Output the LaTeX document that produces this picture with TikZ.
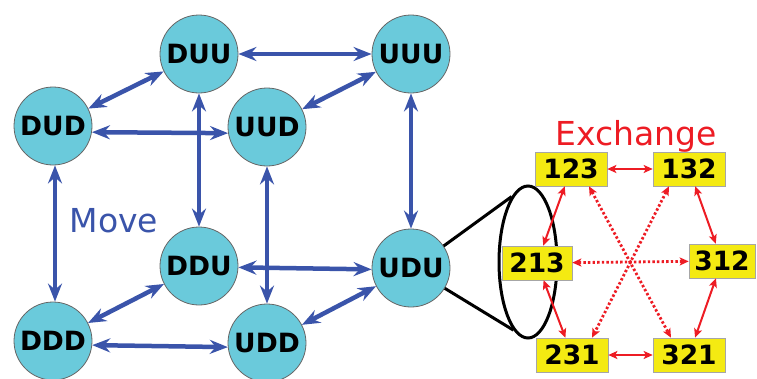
\documentclass[tikz,border=0pt]{standalone}
\usepackage{fontspec}
\setmainfont{DejaVu Sans}
\usetikzlibrary{arrows.meta,shapes.geometric}
\definecolor{spinfill}{RGB}{106,202,219}
\definecolor{movecol}{RGB}{58,84,170}
\definecolor{exred}{RGB}{237,28,36}
\definecolor{permfill}{RGB}{244,234,18}
\tikzset{
  state/.style={circle,draw=gray!80!black,line width=0.8pt,fill=spinfill,
    minimum size=78pt,inner sep=0pt,font=\fontsize{26.5}{30}\selectfont\bfseries},
  perm/.style={rectangle,draw=gray!70,line width=0.6pt,fill=permfill,
    minimum width=72pt,minimum height=34pt,inner sep=0pt,
    font=\fontsize{26.5}{30}\selectfont\bfseries},
  movearrow/.style={movecol,line width=4.5pt,
    {Stealth[length=18pt,width=14pt,inset=6pt]}-{Stealth[length=18pt,width=14pt,inset=6pt]}},
  swaparrow/.style={exred,line width=2pt,
    {Stealth[length=9pt,width=8pt,inset=2pt]}-{Stealth[length=9pt,width=8pt,inset=2pt]}},
  swapdotted/.style={swaparrow,line width=2.8pt,dash pattern=on 2.4pt off 2.2pt},
}
\begin{document}
\begin{tikzpicture}[x=1pt,y=-1pt]
\useasboundingbox (0,0) rectangle (757,378);

% spin configurations on the cube
\node[state] (DUU) at (199,54) {DUU};
\node[state] (UUU) at (411,54) {UUU};
\node[state] (DUD) at (53,126) {DUD};
\node[state] (UUD) at (267,127) {UUD};
\node[state] (DDU) at (199,266) {DDU};
\node[state] (UDU) at (411,268) {UDU};
\node[state] (DDD) at (53,341) {DDD};
\node[state] (UDD) at (267,343) {UDD};

% cube edges
\draw[movearrow] (DUU) -- (UUU);
\draw[movearrow] (DUD) -- (DUU);
\draw[movearrow] (UUD) -- (UUU);
\draw[movearrow] (DUD.-9) -- (UUD.189);
\draw[movearrow] (DUU) -- (DDU);
\draw[movearrow] (UUD) -- (UDD);
\draw[movearrow] (UUU) -- (UDU);
\draw[movearrow] ([xshift=2pt]DUD.south) -- ([xshift=2pt]DDD.north);
\draw[movearrow] (DDU.-2) -- (UDU.182);
\draw[movearrow] (DDD) -- (DDU);
\draw[movearrow] (DDD.-6) -- (UDD.186);
\draw[movearrow] (UDD) -- (UDU);

\node[anchor=base west,text=movecol,font=\fontsize{33}{38}\selectfont] (move) at (66,232) {Move};

% zoom cone onto the exchange ring
\node[ellipse,draw=black,line width=3pt,minimum width=58pt,minimum height=152pt,inner sep=0pt] (ring) at (528,262) {};
\draw[black,line width=3pt] (UDU.34) -- (ring.104);
\draw[black,line width=3pt] (UDU.-31) -- (ring.-102);

\node[anchor=base west,text=exred,font=\fontsize{33}{38}\selectfont] (exch) at (552,145) {Exchange};

% permutations
\node[perm] (p123) at (571,169) {123};
\node[perm] (p132) at (689,169) {132};
\node[perm,minimum width=70pt] (p213) at (537,263) {213};
\node[perm,minimum width=66pt] (p312) at (722,261) {312};
\node[perm] (p231) at (572,355) {231};
\node[perm] (p321) at (689,355) {321};

\draw[swaparrow] (p123) -- (p132);
\draw[swaparrow] (p123) -- (p213);
\draw[swaparrow] (p132) -- (p312);
\draw[swaparrow] (p213) -- (p231);
\draw[swaparrow] (p312) -- (p321);
\draw[swaparrow] (p231) -- (p321);
\draw[swapdotted] ([xshift=18pt]p123.south) -- ([xshift=-18pt]p321.north);
\draw[swapdotted] ([xshift=-20pt]p132.south) -- ([xshift=20pt]p231.north);
\draw[swapdotted] (p213) -- (p312);
\end{tikzpicture}
\end{document}
